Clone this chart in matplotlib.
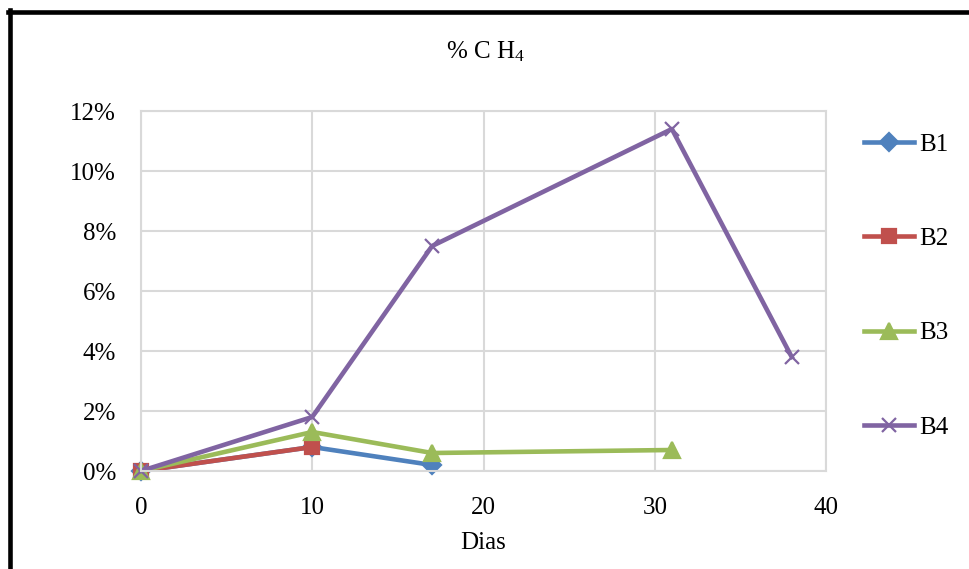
import matplotlib
matplotlib.use('Agg')
import matplotlib.pyplot as plt
from matplotlib.lines import Line2D
from matplotlib.ticker import PercentFormatter

plt.rcParams['font.family'] = ['Liberation Serif', 'DejaVu Serif']
plt.rcParams['mathtext.fontset'] = 'custom'
plt.rcParams['mathtext.rm'] = 'Liberation Serif'
plt.rcParams['mathtext.it'] = 'Liberation Serif'

# methane content (%) per reactor over the days
dias_b1 = [0, 10, 17]
ch4_b1 = [0.0, 0.8, 0.2]
dias_b2 = [0, 10]
ch4_b2 = [0.0, 0.8]
dias_b3 = [0, 10, 17, 31]
ch4_b3 = [0.0, 1.3, 0.6, 0.7]
dias_b4 = [0, 10, 17, 31, 38]
ch4_b4 = [0.0, 1.8, 7.5, 11.4, 3.8]

series = [
    ('B1', dias_b1, ch4_b1, '#4f81bd', 'D', 9),
    ('B2', dias_b2, ch4_b2, '#c0504d', 's', 10),
    ('B3', dias_b3, ch4_b3, '#9bbb59', '^', 11),
    ('B4', dias_b4, ch4_b4, '#8064a2', 'x', 10),
]

fig = plt.figure(figsize=(9.7, 5.69), dpi=100)
ax = fig.add_axes([141/970, 1 - 471/569, (826 - 141)/970, (471 - 111)/569])

for name, x, y, col, mk, ms in series:
    ax.plot(x, y, color=col, lw=3.3, marker=mk, ms=ms, mew=1.6,
            mfc=col, mec=col, label=name, clip_on=False)

ax.set_xlim(0, 40)
ax.set_ylim(0, 12)
ax.set_xticks([0, 10, 20, 30, 40])
ax.set_yticks([0, 2, 4, 6, 8, 10, 12])
ax.yaxis.set_major_formatter(PercentFormatter(decimals=0))
ax.tick_params(length=0, labelsize=18, colors='black')
ax.tick_params(axis='y', pad=18)
ax.tick_params(axis='x', pad=19)
ax.grid(True, color='#d9d9d9', lw=1.5)
ax.set_axisbelow(True)
for s in ax.spines.values():
    s.set_color('#d9d9d9')
    s.set_linewidth(1.5)

ax.set_xlabel('Dias', fontsize=18, labelpad=9)
fig.text(0.5, 1 - 52/569, r'% C H$_{4}$', ha='center', va='center', fontsize=18)

fig.legend(loc='center left', bbox_to_anchor=(864/970, 1 - 286/569),
           frameon=False, fontsize=18, borderpad=0, borderaxespad=0,
           handlelength=2.0, handletextpad=0.2, labelspacing=2.87)

# outer frame (top and left edges only)
fig.add_artist(Line2D([8/970, 1], [1 - 11.5/569, 1 - 11.5/569],
                      transform=fig.transFigure, color='black', lw=3.3))
fig.add_artist(Line2D([10.5/970, 10.5/970], [0, 1 - 10/569],
                      transform=fig.transFigure, color='black', lw=3.3))

fig.savefig('out.png', dpi=100)
